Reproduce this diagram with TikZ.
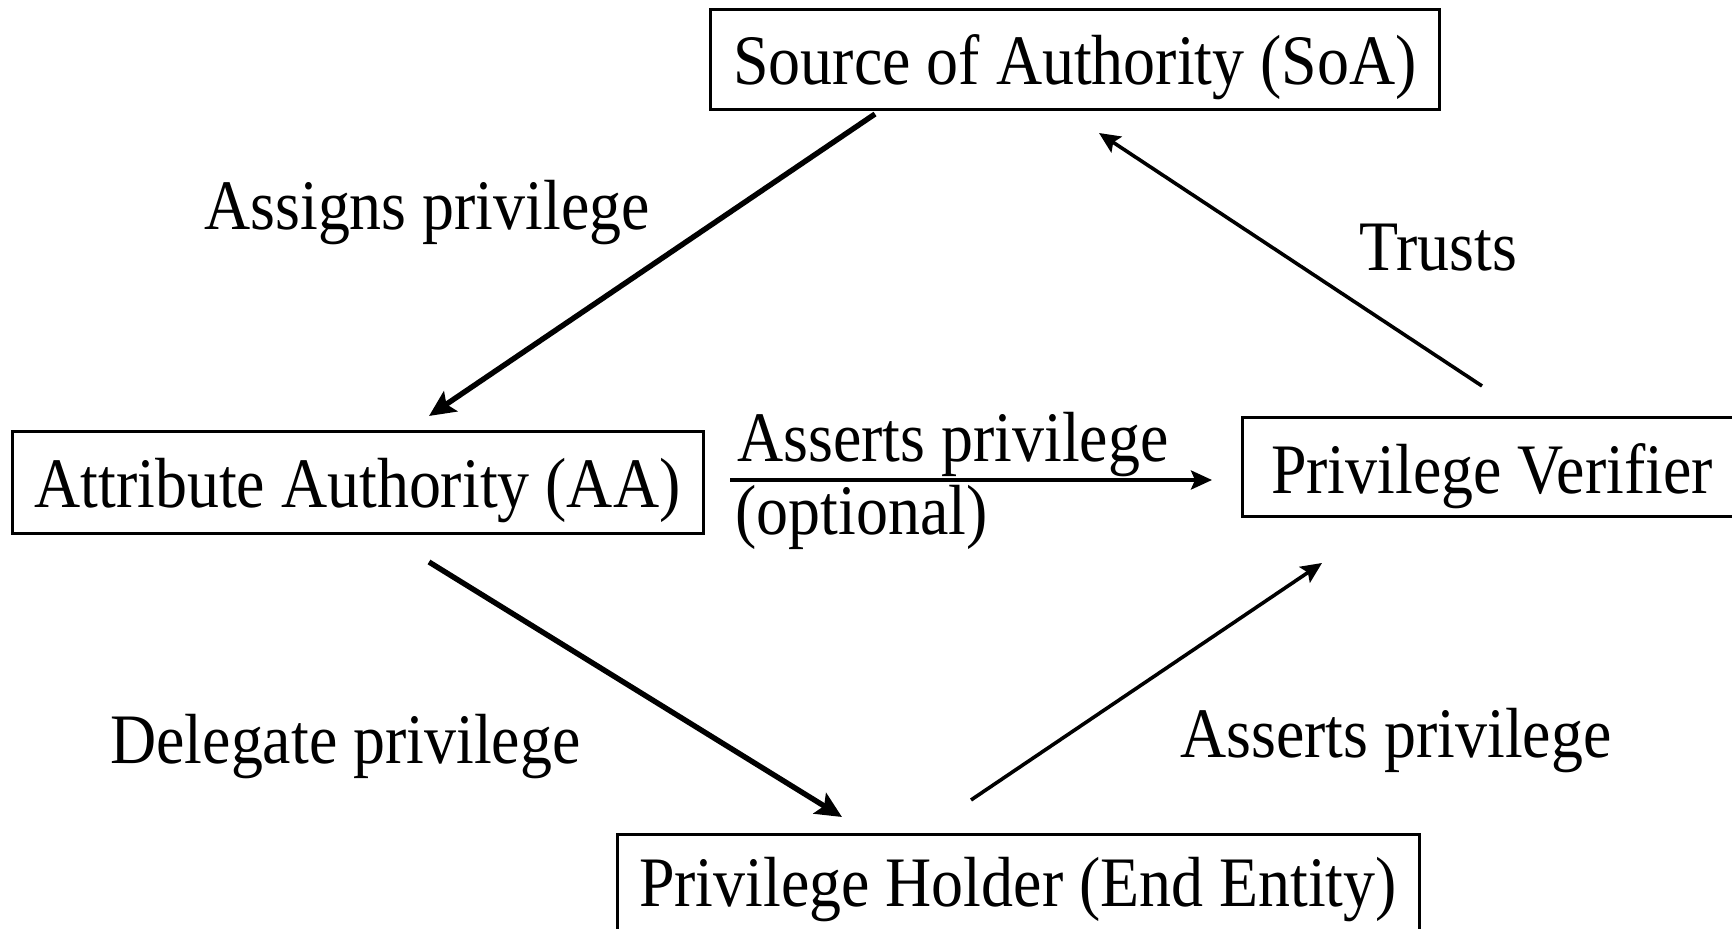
\documentclass[tikz,border=0pt]{standalone}
\usepackage{fontspec}
\setmainfont{Liberation Serif}[FakeStretch=0.9]
\usetikzlibrary{arrows.meta}
\begin{document}
\begin{tikzpicture}[x=0.5pt,y=-0.5pt,
  every node/.style={font=\fontsize{35.5pt}{40pt}\selectfont, inner sep=0pt},
  entity/.style={draw, line width=1.5pt, align=center, text height=32.6pt, text depth=7.6pt},
  lbl/.style={anchor=west},
  thickarrow/.style={line width=2.7pt, -{Stealth[length=13pt,width=12pt,inset=2.5pt]}},
  thinarrow/.style={line width=1.8pt, -{Stealth[length=10.5pt,width=9.5pt,inset=2pt]}}]
\useasboundingbox[fill=white] (0,0) rectangle (1732,929);
\begin{scope}
\clip (0,0) rectangle (1732,929);
\node[entity, minimum width=364.5pt, minimum height=50pt] (soa) at (1075,60) {Source of Authority (SoA)};
\node[entity, minimum width=345.5pt, minimum height=51pt] (aa) at (357.5,483) {Attribute Authority (AA)};
\node[entity, minimum width=250pt, minimum height=49.5pt, text height=34pt] (pv) at (1492,467.5) {Privilege Verifier};
\node[entity, minimum width=401pt, minimum height=50pt, text height=30pt] (ph) at (1018,884) {Privilege Holder (End Entity)};
\end{scope}

\coordinate (a1s) at (875,114);
\coordinate (a1e) at (429,416);
\coordinate (a2s) at (1482,386);
\coordinate (a2e) at (1099,133);
\coordinate (a3s) at (730,480);
\coordinate (a3e) at (1212,480);
\coordinate (a4s) at (429,562);
\coordinate (a4e) at (842,817);
\coordinate (a5s) at (971,800);
\coordinate (a5e) at (1322,563);

\draw[thickarrow] (a1s) -- (a1e);
\draw[thinarrow] (a2s) -- (a2e);
\draw[thinarrow] (a3s) -- (a3e);
\draw[thickarrow] (a4s) -- (a4e);
\draw[thinarrow] (a5s) -- (a5e);

\node[lbl] (l1) at (204,213) {Assigns privilege};
\node[lbl] (l2) at (1359,248) {Trusts};
\node[lbl] (l3) at (737,445) {Asserts privilege};
\node[lbl] (l4) at (735,517) {(optional)};
\node[lbl] (l5) at (110,747) {Delegate privilege};
\node[lbl] (l6) at (1180,741) {Asserts privilege};
\end{tikzpicture}
\end{document}
